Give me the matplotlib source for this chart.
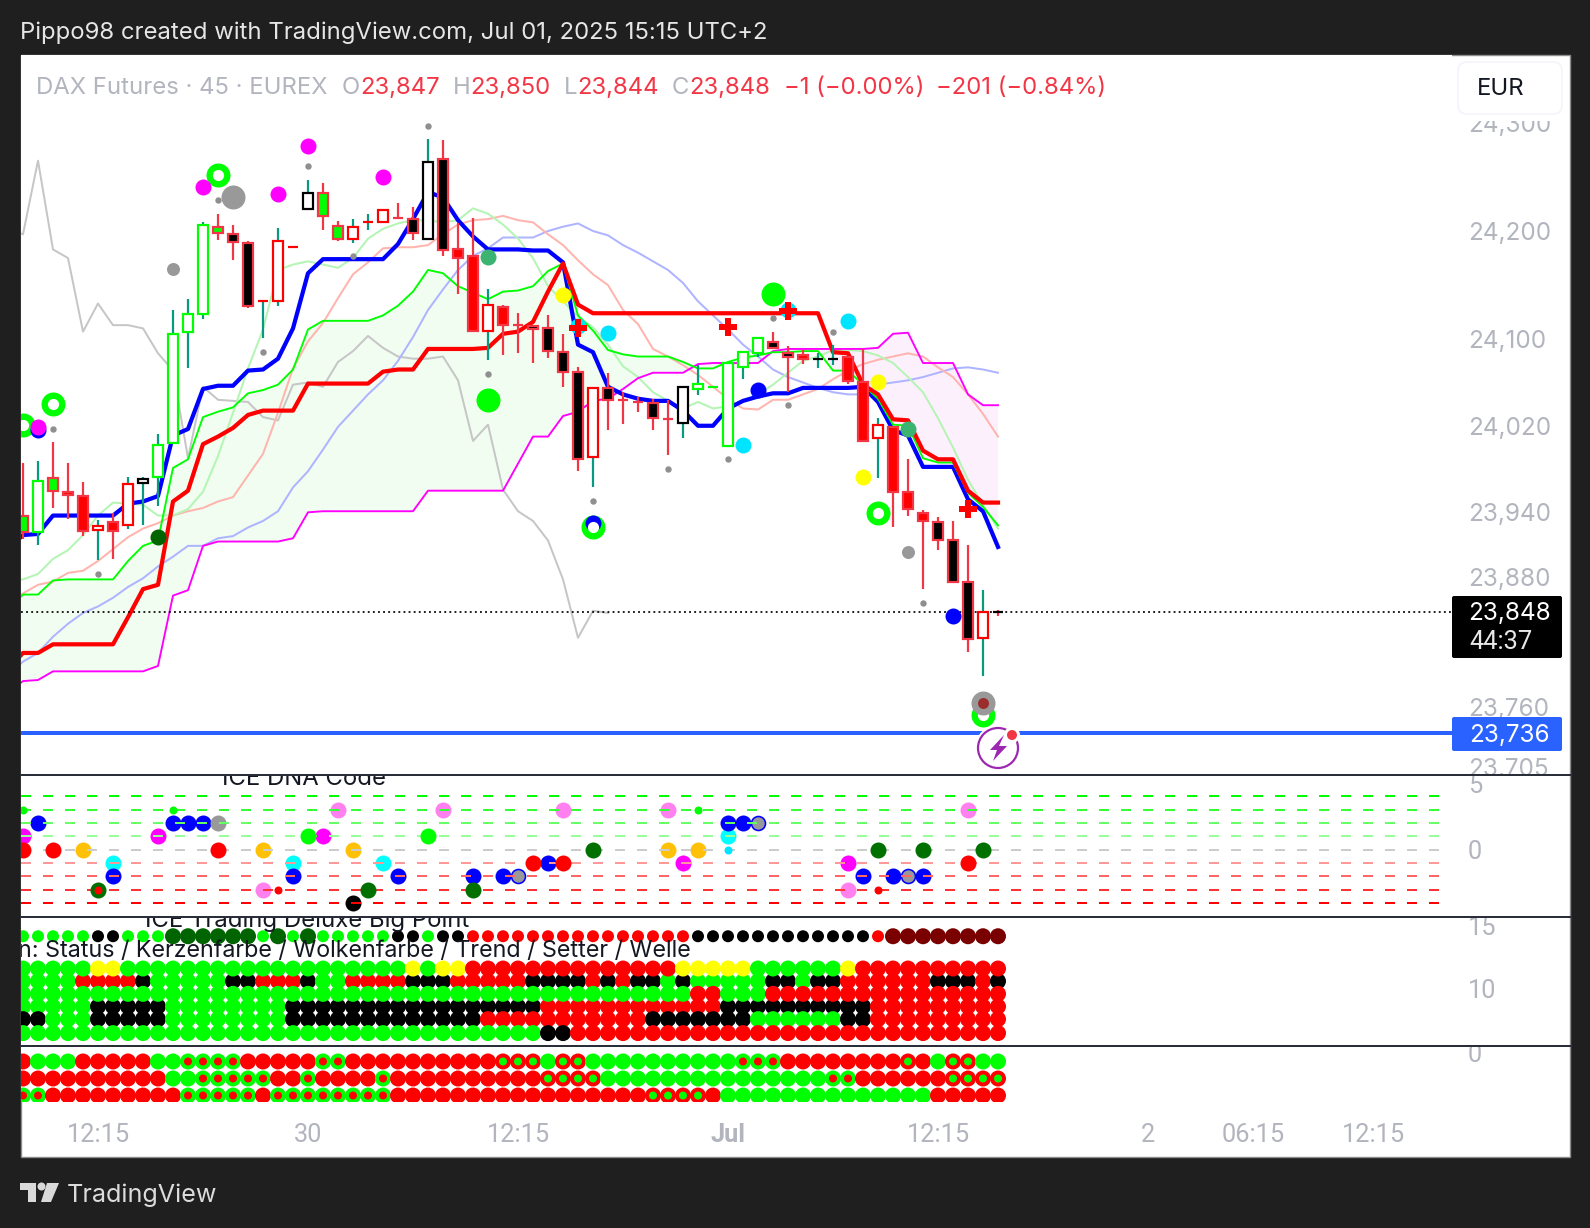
import numpy as np
import matplotlib
matplotlib.use("Agg")
import matplotlib.pyplot as plt
from matplotlib.patches import Rectangle, Circle, Polygon, FancyBboxPatch
from matplotlib.transforms import Affine2D, Bbox

plt.rcParams['font.family'] = ['Inter', 'DejaVu Sans']

# ---------- OHLC ----------
candle_high = [23986,23987,24005,23986,23968,23933,23939,23973,23973,24012,24127,24137,24208,24216,24206,24191,24135,24203,24185,24247,24244,24209,24211,24216,24219,24226,24222,24285,24284,24207,24212,24146,24132,24124,24113,24122,24105,24074,24055,24069,24051,24047,24045,24044,24056,24076,24056,24078,24088,24101,24107,24094,24090,24087,24095,24084,24091,24027,24020,23989,23942,23936,23932,23910,23868,23850]
candle_low = [23915,23910,23944,23934,23918,23896,23897,23925,23928,23946,24004,24073,24119,24192,24173,24129,24101,24131,24185,24220,24201,24191,24189,24201,24208,24211,24192,24193,24177,24142,24107,24081,24085,24087,24078,24083,24056,23978,23963,24016,24022,24033,24016,23993,24009,24048,24056,24001,24063,24084,24091,24051,24077,24073,24076,24059,24006,23972,23926,23937,23869,23905,23875,23811,23789,23844]
body_top = [23937,23969,23972,23959,23955,23927,23931,23966,23971,24002,24105,24123,24206,24204,24197,24189,24135,24191,24185,24235,24235,24205,24204,24208,24219,24212,24211,24264,24267,24183,24177,24132,24130,24113,24112,24110,24088,24070,24055,24055,24044,24042,24041,24026,24056,24059,24056,24078,24088,24101,24097,24087,24085,24082,24082,24084,24060,24021,24019,23959,23939,23931,23914,23876,23848,23848]
body_bottom = [23922,23922,23960,23956,23923,23924,23923,23928,23967,23973,24004,24107,24123,24198,24190,24131,24135,24135,24185,24220,24214,24193,24193,24208,24208,24212,24198,24193,24182,24175,24108,24108,24113,24113,24109,24089,24070,23989,23991,24044,24044,24042,24027,24026,24023,24054,24056,24001,24074,24087,24092,24084,24082,24082,24082,24061,24006,24009,23959,23943,23932,23914,23876,23823,23824,23848]
candle_state = "EAEFFBFBCA" "AAAEDDBBBC" "EEBBBFDCDF" "FBFFDDDDBD" "FFDFCAAAAA" "DDFCCFFBFF" "FDDDBG"

# ---------- indicator lines, first value is one bar before the first candle ----------
line_blue = [23906,23919,23920,23937,23937,23937,23937,23937,23948,23950,23955,24011,24017,24054,24057,24057,24071,24072,24082,24110,24161,24174,24174,24174,24174,24174,24188,24211,24236,24231,24210,24195,24183,24183,24183,24182,24182,24171,24095,24088,24056,24049,24045,24043,24043,24034,24020,24020,24036,24043,24047,24050,24050,24055,24055,24055,24055,24056,24042,24016,24011,23982,23982,23982,23952,23941,23908]
line_red = [23795,23810,23810,23818,23818,23818,23818,23818,23843,23869,23873,23950,23960,24003,24010,24018,24030,24034,24034,24034,24059,24059,24059,24059,24059,24070,24072,24072,24091,24091,24091,24091,24092,24105,24107,24116,24144,24170,24132,24124,24124,24124,24124,24124,24124,24124,24124,24124,24124,24124,24124,24124,24124,24124,24124,24088,24087,24058,24049,24026,24025,23997,23989,23989,23960,23949,23949]
cloud_green = [23850,23864,23864,23877,23878,23878,23878,23878,23895,23909,23914,23981,23989,24028,24033,24037,24050,24053,24058,24072,24109,24117,24117,24117,24117,24122,24131,24144,24164,24161,24149,24143,24137,24144,24145,24149,24163,24170,24122,24108,24090,24086,24084,24084,24084,24079,24073,24073,24079,24083,24085,24088,24088,24089,24089,24071,24071,24058,24045,24021,24020,23990,23986,23986,23958,23945,23928]
cloud_magenta = [23773,23784,23785,23793,23793,23793,23793,23793,23793,23793,23798,23863,23868,23909,23913,23913,23913,23913,23913,23916,23940,23941,23941,23941,23941,23941,23941,23941,23960,23960,23960,23960,23960,23960,23985,24010,24010,24029,24033,24043,24045,24054,24064,24069,24069,24069,24077,24078,24078,24078,24078,24089,24091,24091,24091,24091,24091,24091,24092,24105,24106,24078,24078,24078,24049,24039,24039]
pale_blue = [23789,23802,23810,23825,23837,23847,23853,23861,23871,23879,23890,23899,23909,23909,23916,23918,23926,23932,23941,23963,23978,23998,24019,24034,24049,24062,24080,24102,24127,24146,24164,24177,24184,24194,24194,24194,24200,24204,24207,24200,24196,24187,24180,24172,24164,24152,24135,24122,24109,24095,24084,24072,24065,24060,24055,24051,24049,24049,24058,24060,24062,24065,24069,24073,24074,24072,24069]
pale_red = [23860,23865,23873,23876,23884,23886,23895,23906,23917,23925,23930,23937,23941,23944,23950,23954,23974,23994,24032,24073,24098,24115,24138,24160,24171,24184,24185,24185,24187,24197,24206,24210,24211,24214,24210,24208,24197,24187,24173,24160,24150,24127,24114,24091,24084,24076,24067,24056,24045,24036,24035,24044,24044,24049,24054,24063,24071,24077,24081,24084,24087,24084,24074,24065,24049,24031,24010]
pale_green = [23877,23878,23883,23897,23905,23919,23937,23949,23948,23947,23937,23937,23943,23959,23992,24032,24073,24109,24164,24169,24172,24169,24166,24175,24193,24202,24207,24210,24210,24208,24210,24221,24216,24206,24193,24175,24149,24135,24121,24111,24095,24075,24065,24051,24043,24036,24042,24036,24038,24043,24049,24058,24069,24080,24084,24090,24090,24089,24085,24078,24065,24051,24027,24000,23970,23947,23925]
lagging_gray = [24202,24197,24265,24183,24175,24107,24133,24113,24113,24110,24087,24071,23990,24056,24044,24043,24042,24028,24025,24058,24060,24056,24079,24089,24103,24092,24084,24082,24082,24084,24062,24006,24021,23961,23941,23932,23914,23878,23824,23849,23847]

# ---------- signals on the price pane: (bar, price) ----------
sig_magenta = ([1,12,17,19,24], [24019,24241,24234,24279,24250])
sig_ring = ([0,2,13,38,57,64], [24021,24040,24252,23926,23939,23753])
sig_blue = ([1,38,49,62], [24016,23930,24053,23844])
sig_gray_big = ([14,64], [24231,23764])
sig_gray_mid = ([10,59], [24165,23903])
sig_brown = ([64], [23764])
sig_gray_small = ([2,13,5,16,19,22,27,31,38,43,47,50,51,54,60],
                  [24017,24229,23883,24088,24260,24177,24297,24068,23950,23980,23989,24120,24039,24107,23856])
sig_darkgreen = ([9], [23917])
sig_seagreen = ([31,59], [24176,24017])
sig_lime_big = ([31,50], [24044,24142])
sig_yellow = ([36,57,56], [24141,24060,23973])
sig_cyan = ([37,39,48,51,55], [24112,24106,24002,24127,24117])
sig_plus = ([37,47,51,63], [24110,24111,24126,23943])

last_price = 23848
alert_price = 23736
price_ticks = [23705,23760,23880,23940,24020,24100,24200,24300]

# ---------- ICE DNA Code ----------
dna_levels = [4,3,2,1,0,-1,-2,-3,-4]
dna_bar = [0,0,0,1,2,4,5,5,6,6,9,10,10,11,12,13,13,16,16,17,18,18,19,20,21,22,22,23,24,25,27,28,30,30,32,33,34,35,36,36,38,43,43,44,45,45,47,47,47,48,49,55,55,56,57,57,58,59,60,60,63,63,64]
dna_val = [3,1,0,2,0,0,-3,-3,-1,-2,1,3,2,2,2,2,0,0,-3,-3,-1,-2,1,1,3,0,-4,-3,-1,-2,1,3,-2,-3,-2,-2,-1,-1,-1,3,0,3,0,-1,3,0,2,1,0,2,2,-1,-3,-2,0,-3,-2,-2,-2,0,3,-1,0]
dna_kinds = ['l','m','r','b','r','o','d','s','C','b','m','l','b','b','b','G','r','o','p','s','C','b','g','m','p','o','k','d','C','b','g','p','b','d','b','N','r','b','r','p','d','p','o','m','l','o','b','C','c','b','N','m','p','b','d','s','b','N','b','d','p','r','d']

# ---------- ICE Trading Deluxe Big Point ----------
bp_values = [14.15,11.6,10.6,9.6,8.6,7.6,6.5]
bp_row0 = "ggggg" "kk" "ggg" "DDDDDD" "g" "D" "g" "D" "ggggg" "kk" "g" "kk" "rrrrrrrrrrrrrrr" "kkkkkkkkkkkk" "r" "MMMMMMMM"
bp_row1 = "ggggg" "yy" "ggggggggggggggggggg" "y" "g" "yy" "rrrrrrrrrrrrrr" "yyyyy" "gggggg" "y" "rrrrrrrrrr"
bp_row2 = "gggg" "rrrr" "k" "ggggg" "kk" "rrr" "k" "gg" "rrrr" "kkk" "rrrrr" "kkkk" "r" "k" "r" "kk" "g" "k" "ggggg" "kk" "g" "kk" "rrrrrr" "kkk" "r" "k"
bp_row3 = "ggggggggggggggg" "ggggggggggggggg" "ggggggggggggggg" "rr" "ggg" "rrrrrrrrrrrrrrrr"
bp_row4 = "ggggg" "kkkkk" "gggggggg" "kkkkkkkkkkkkkkkkk" "rrrrrrrrrrrr" "kkkkkkkkkk" "rrrrrrrrr"
bp_row5 = "kk" "ggg" "kkkkk" "gggggggg" "kkkkkkkkkkkkk" "rrrrrrrrrrr" "kkkkkkk" "gggggg" "kk" "rrrrrrrrr"
bp_row6 = "ggggggggggggggggggggggggggggggggggg" "kk" "rrrrrrrrrrrrrrrrrrrrrrrrrrrrr"

# ---------- Momentum Status Indikator (a: red with green core, b: green with red core) ----------
mom_values = [-0.5,-1.5,-2.5]
mom_row0 = "r" "ggg" "rrrrr" "gg" "bbbb" "rrrrr" "bb" "rrrrrrrrrr" "aaa" "g" "aa" "gggggggggg" "bbb" "rrrrrrrr" "a" "r" "g" "aa" "gg"
mom_row1 = "rrrrrrrrrr" "gg" "bbbbb" "rr" "b" "rrrr" "b" "rrrrrrrrrr" "aaaa" "ggggggggggggggg" "bb" "rrrrrr" "aaaa"
mom_row2 = "bb" "rrrrrrrrr" "bbbbb" "r" "bbbbbbbb" "rrrrrrrrrrrrrrrrr" "aaaa" "r" "gggggggggggggg" "rrrrr"

time_ticks = [5,19,33,47,61,75,82,90]
time_labels = ['12:15','30','12:15','Jul','12:15','2','06:15','12:15']

# ---------- layout (image pixels) ----------
W, H = 1590, 1228
L, R, AXR = 20.5, 1452, 1570
TOP, P1, P2, P3, P4, BOT = 55, 775, 916.5, 1046, 1102, 1157
PX = Affine2D().scale(1, -1).translate(0, H)
BG = '#1f1f1f'
GREY = '#b2b5be'
FS = 17.2
FS_AXIS = 17.5
FS_DIGITS = 18.3
C_LIME, C_RED, C_TV = '#00ff00', '#ff0000', '#f23645'
TEAL = '#089981'
INK = '#131722'


def sz(r):
    return (2 * r * 72 / 100) ** 2


def lw(p):
    return p * 72 / 100


def label(x, y, s, size=FS, color=INK, ha='left', **kw):
    fig.text(x, H - y - 2, s, transform=None, ha=ha, va='center', fontsize=size, color=color, zorder=9, **kw)


fig = plt.figure(figsize=(W / 100, H / 100), dpi=100, facecolor=BG)
fig.add_artist(Rectangle((L, TOP), AXR - L, BOT - TOP, transform=PX, fc='white', ec='#8c8c8c', lw=1, zorder=-1))


def pane(top, bottom, ylim, size=FS_AXIS):
    ax = fig.add_axes([L / W, 1 - bottom / H, (R - L) / W, (bottom - top) / H])
    ax.set_xlim((L - 23) / 15, (R - 23) / 15)
    ax.set_ylim(*ylim)
    for s in ax.spines.values():
        s.set_visible(False)
    ax.xaxis.set_visible(False)
    ax.yaxis.tick_right()
    ax.tick_params(axis='y', length=0, pad=11.5, labelsize=size, labelcolor=GREY)
    return ax


def clip_labels(ax, top, bottom, family=None):
    for t in ax.get_yticklabels():
        t.set_clip_box(Bbox([[R, H - bottom], [AXR, H - top]]))
        t.set_clip_on(True)
        if family:
            t.set_fontfamily(family)


# ---------- price pane ----------
ax = pane(TOP, P1, (23697.2, 24362.7))
bars = np.arange(66)
line_x = np.arange(-1, 66)
gr, ma = np.array(cloud_green, float), np.array(cloud_magenta, float)
ax.fill_between(line_x, gr, ma, where=gr >= ma, interpolate=True, color='#f1fdf1', lw=0, zorder=1)
ax.fill_between(line_x, gr, ma, where=gr < ma, interpolate=True, color='#fdf0fd', lw=0, zorder=1)
ax.plot(np.arange(-1, len(lagging_gray) - 1), lagging_gray, color='#c6c6c6', lw=lw(2), zorder=2)
ax.plot(line_x, pale_blue, color='#aeb4ff', lw=lw(2), zorder=2)
ax.plot(line_x, pale_red, color='#ffb4ae', lw=lw(2), zorder=2)
ax.plot(line_x, pale_green, color='#b4f5b4', lw=lw(2), zorder=2)
ax.plot(line_x, cloud_magenta, color='#ff00ff', lw=lw(1.9), zorder=2.1)
ax.plot(line_x, line_blue, color='#0000ff', lw=lw(4.2), zorder=2.2)
ax.plot(line_x, cloud_green, color=C_LIME, lw=lw(1.9), zorder=2.3)
ax.plot(line_x, line_red, color=C_RED, lw=lw(4.2), zorder=2.4)

styles = {
    'A': (TEAL, C_LIME, 'white'), 'B': (TEAL, C_RED, 'white'), 'C': (TEAL, 'black', 'white'),
    'D': (C_TV, C_TV, 'black'), 'E': (C_TV, C_TV, C_LIME), 'F': (C_TV, C_TV, C_RED), 'G': (C_TV, 'black', 'black'),
}
wick_c = [styles[c][0] for c in candle_state]
edge_c = [styles[c][1] for c in candle_state]
face_c = [styles[c][2] for c in candle_state]
ax.vlines(bars, candle_low, candle_high, colors=wick_c, lw=lw(2.2), zorder=3)
ax.bar(bars, np.array(body_top) - np.array(body_bottom), bottom=body_bottom, width=0.65,
       color=face_c, edgecolor=edge_c, linewidth=lw(2.2), zorder=4)

ax.axhline(last_price, color='black', lw=lw(1.7), ls=(0, (1.1, 1.9)), zorder=2.6)
ax.axhline(alert_price, color='#2962ff', lw=lw(4), zorder=2.6)


def sig(data, color, r, z=5, **kw):
    ax.scatter(data[0], data[1], s=sz(r), c=color, linewidths=0, zorder=z, **kw)


sig(sig_seagreen, '#3cb371', 8)
sig(sig_cyan, '#00e5ff', 8)
sig(sig_yellow, '#ffff00', 8)
sig(sig_magenta, '#ff00ff', 8, z=5.2)
sig(sig_ring, C_LIME, 12)
sig(sig_blue, '#0000ff', 8, z=5.1)
ax.scatter(sig_ring[0], sig_ring[1], s=sz(5.6), c='white', linewidths=0, zorder=5.15)
sig(sig_darkgreen, '#006400', 8)
sig(sig_lime_big, C_LIME, 12)
sig(sig_gray_big, '#999999', 12, z=5.3)
sig(sig_gray_mid, '#999999', 6.5)
sig(sig_gray_small, '#8f8f8f', 3.2)
sig(sig_brown, '#9b2d2d', 5.5, z=5.4)
ax.scatter(sig_plus[0], sig_plus[1], s=13 ** 2, c=C_RED, marker='P', linewidths=0, zorder=5.5)

ax.set_yticks(price_ticks)
ax.set_yticklabels([f'{v:,}' for v in price_ticks])
clip_labels(ax, 121, P1)

# ---------- DNA pane ----------
ax1 = pane(P1, P2, (-5.0, 5.6), size=FS_DIGITS)
dna_style = {
    'l': (C_LIME, 4), 'm': ('#ff00ff', 8), 'r': (C_RED, 8), 'b': ('#0000ff', 8), 'o': ('#ffc107', 8),
    'd': ('#007000', 8), 'C': ('#00ffff', 8), 'g': (C_LIME, 8), 'p': ('#ff80ee', 8), 's': (C_RED, 4),
    'k': ('black', 8), 'c': ('#00e5ff', 4), 'G': ('#999999', 8), 'N': ('#999999', 7),
}
dna_colors = {4: '#00ff00', 3: '#33ff33', 2: '#66ff66', 1: '#99ff99', 0: '#cccccc',
              -1: '#ff9999', -2: '#ff6666', -3: '#ff3333', -4: '#ff0000'}
for b, v, k in zip(dna_bar, dna_val, dna_kinds):
    c, r = dna_style[k]
    kw = dict(edgecolors='#0000ff', linewidths=lw(1.6)) if k == 'N' else dict(linewidths=0)
    zo = 5 if k in 'rgdl' else (5.5 if k in 'sc' else (2.9 if k == 'C' else 3))
    ax1.scatter([b], [v], s=sz(r), c=c, zorder=zo, **kw)
for lev in dna_levels:
    ax1.plot([(L - 23) / 15, (1440 - 23) / 15], [lev, lev], color=dna_colors[lev], lw=lw(2),
             ls=(0, (5, 6)), zorder=4)
ax1.set_yticks([5, 0])
ax1.set_yticklabels(['5', '0'])
clip_labels(ax1, P1, P2, 'Roboto')
ax1.text(304, 779, 'ICE DNA Code', transform=PX, ha='center', va='center', fontsize=FS, color=INK, clip_on=True, zorder=6)

# ---------- Big Point pane ----------
ax2 = pane(P2, P3, (5.48, 15.71), size=FS_DIGITS)
bp_colors = {'g': C_LIME, 'k': 'black', 'r': C_RED, 'y': '#ffff00', 'D': '#006400', 'M': '#7a0000'}
order = [(bp_row4, bp_values[4]), (bp_row5, bp_values[5]), (bp_row6, bp_values[6]),
         (bp_row2, bp_values[2]), (bp_row1, bp_values[1]), (bp_row3, bp_values[3])]
for row, v in order:
    assert len(row) == 66
    ax2.scatter(bars, [v] * 66, s=sz(8), c=[bp_colors[c] for c in row], linewidths=0, zorder=3)
assert len(bp_row0) == 66
small = [i for i, c in enumerate(bp_row0) if c in 'gkr']
large = [i for i, c in enumerate(bp_row0) if c in 'DM']
ax2.scatter(small, [bp_values[0]] * len(small), s=sz(6), c=[bp_colors[bp_row0[i]] for i in small], linewidths=0, zorder=3)
ax2.scatter(large, [bp_values[0]] * len(large), s=sz(8), c=[bp_colors[bp_row0[i]] for i in large], linewidths=0, zorder=3)
ax2.set_yticks([15, 10])
ax2.set_yticklabels(['15', '10'])
clip_labels(ax2, P2, P3, 'Roboto')
ax2.text(307, 921, 'ICE Trading Deluxe Big Point', transform=PX, ha='center', va='center', fontsize=FS, color=INK, clip_on=True, zorder=6)
ax2.text(18.5, 951.5, 'n: Status / Kerzenfarbe / Wolkenfarbe / Trend / Setter / Welle', transform=PX, ha='left', va='center', fontsize=16.8, color=INK, clip_on=True, zorder=6)

# ---------- Momentum pane ----------
ax3 = pane(P3, P4, (-2.88, 0.41), size=FS_DIGITS)
outer = {'r': C_RED, 'g': C_LIME, 'a': C_RED, 'b': C_LIME}
inner = {'a': C_LIME, 'b': C_RED}
for row, v in zip([mom_row0, mom_row1, mom_row2], mom_values):
    assert len(row) == 66
    ax3.scatter(bars, [v] * 66, s=sz(8), c=[outer[c] for c in row], linewidths=0, zorder=3)
    core = [i for i, c in enumerate(row) if c in inner]
    ax3.scatter(core, [v] * len(core), s=sz(4), c=[inner[row[i]] for i in core], linewidths=0, zorder=3.1)
ax3.set_yticks([0])
ax3.set_yticklabels(['0'])
clip_labels(ax3, P3, P4, 'Roboto')
ax3.text(307, 1041, 'Momentum Status Indikator', transform=PX, ha='center', va='center', fontsize=FS, color=INK, clip_on=True, zorder=6)
ax3.xaxis.set_visible(True)
ax3.xaxis.tick_bottom()
ax3.set_xticks(time_ticks)
ax3.set_xticklabels(time_labels)
ax3.tick_params(axis='x', length=0, pad=15, labelsize=FS_DIGITS, labelcolor=GREY)
for t in ax3.get_xticklabels():
    t.set_fontfamily('Roboto')
ax3.get_xticklabels()[3].set_fontweight('bold')

# ---------- pane separators, overlays ----------
for y in (P1, P2, P3):
    fig.add_artist(plt.Line2D([L, AXR], [y, y], transform=PX, color='#2a2e39', lw=lw(2), zorder=8))

fig.add_artist(FancyBboxPatch((1458, 62), 104, 52, boxstyle='round,pad=0,rounding_size=9', transform=PX,
                              fc='white', ec='#f0f3fa', lw=1, zorder=8))
label(1477, 87, 'EUR', color=INK)

fig.add_artist(FancyBboxPatch((1452, 596), 110, 62, boxstyle='round,pad=0,rounding_size=2', transform=PX,
                              fc='black', ec='none', zorder=8))
label(1509, 612, f'{last_price:,}', size=FS_AXIS, color='white', ha='center')
label(1501, 640, '44:37', size=FS_DIGITS, color='#e8e8e8', ha='center', family='Roboto')
fig.add_artist(FancyBboxPatch((1452, 717), 110, 34, boxstyle='round,pad=0,rounding_size=2', transform=PX,
                              fc='#2962ff', ec='none', zorder=8))
label(1509, 733, f'{alert_price:,}', size=FS_AXIS, color='white', ha='center')

# alert icon
fig.add_artist(Circle((998, 748), 23, transform=PX, fc='white', ec='none', zorder=7))
fig.add_artist(Circle((998, 748), 20, transform=PX, fc='white', ec='#9c27b0', lw=lw(2.2), zorder=7.1))
fig.add_artist(Circle((1012, 735), 8, transform=PX, fc='white', ec='none', zorder=7.2))
fig.add_artist(Circle((1012, 735), 5, transform=PX, fc='#f23645', ec='none', zorder=7.3))
fig.add_artist(Polygon([(1004, 735), (990, 750), (997, 750), (993, 761), (1007, 746), (999, 746)], closed=True,
                       transform=PX, fc='#9c27b0', ec='none', zorder=7.3))

# header
label(20, 31, 'Pippo98 created with TradingView.com, Jul 01, 2025 15:15 UTC+2', color='#e6e6e6')
legend_items = [(36.5, 'DAX Futures · 45 · EUREX', GREY), (342, 'O', GREY), (360, '23,847', C_TV), (453, 'H', GREY),
                (470, '23,850', C_TV), (564, 'L', GREY), (577, '23,844', C_TV), (672, 'C', GREY), (689, '23,848', C_TV),
                (784, '−1 (−0.00%)', C_TV), (936, '−201 (−0.84%)', C_TV)]
for x, s, c in legend_items:
    label(x, 86, s, color=c)

# footer logo
LOGO = '#d9d9d9'
fig.add_artist(Polygon([(20, 1183), (36, 1183), (36, 1202), (28, 1202), (28, 1190), (20, 1190)], transform=PX, fc=LOGO, ec='none'))
fig.add_artist(Circle((41.5, 1186.5), 4, transform=PX, fc=LOGO, ec='none'))
fig.add_artist(Polygon([(47, 1183), (59, 1183), (51, 1202), (41, 1202)], transform=PX, fc=LOGO, ec='none'))
label(67, 1193.5, 'TradingView', size=18.1, color='#dcdcdc')

fig.savefig('out.png', dpi=100, facecolor=BG)
